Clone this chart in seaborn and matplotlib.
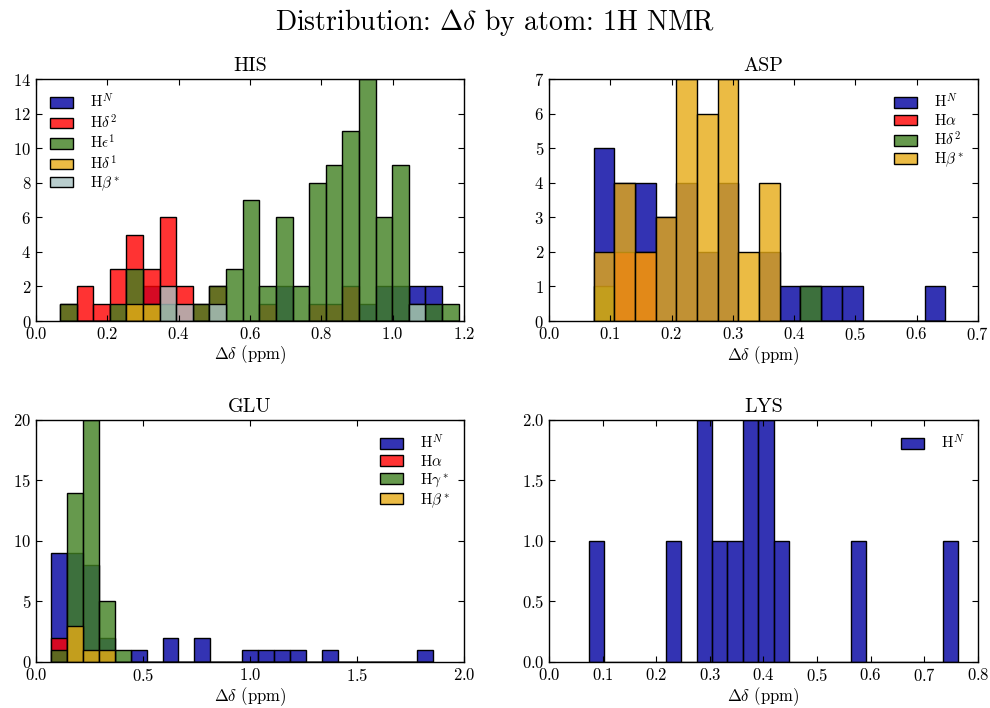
import numpy as np
import matplotlib
matplotlib.use("Agg")
import matplotlib.pyplot as plt
import seaborn as sns

# counts per bin (draw order = legend order)
his_bins = (0.067, 1.185, 24)
his_hn = [0, 0, 0, 0, 0, 2, 0, 0, 0, 0, 0, 0, 0, 2, 0, 0, 0, 0, 1, 2, 2, 2, 2, 0]
his_hd2 = [1, 2, 1, 3, 5, 3, 6, 2, 1, 2, 0, 0, 1, 0, 0, 1, 1, 2, 0, 0, 0, 0, 0, 0]
his_he1 = [1, 0, 0, 1, 3, 1, 1, 0, 1, 2, 3, 7, 2, 6, 2, 8, 9, 11, 14, 6, 9, 1, 1, 1]
his_hd1 = [0, 0, 0, 0, 1, 1, 0, 0, 0, 0, 0, 0, 0, 0, 0, 0, 0, 0, 0, 0, 0, 0, 0, 0]
his_hb = [0, 0, 0, 0, 0, 0, 2, 1, 0, 1, 0, 0, 0, 0, 0, 0, 0, 0, 0, 0, 0, 1, 0, 0]

asp_bins = (0.0729, 0.6467, 17)
asp_hn = [5, 4, 4, 3, 4, 2, 4, 0, 2, 1, 1, 1, 1, 0, 0, 0, 1]
asp_ha = [0, 2, 2, 0, 0, 0, 0, 0, 0, 0, 0, 0, 0, 0, 0, 0, 0]
asp_hd2 = [1, 0, 0, 0, 0, 0, 0, 0, 0, 0, 1, 0, 0, 0, 0, 0, 0]
asp_hb = [2, 4, 2, 3, 7, 6, 7, 2, 4, 0, 0, 0, 0, 0, 0, 0, 0]

glu_bins = (0.070, 1.857, 24)
glu_hn = [9, 9, 8, 2, 0, 1, 0, 2, 0, 2, 0, 0, 1, 1, 1, 1, 0, 1, 0, 0, 0, 0, 0, 1]
glu_ha = [2, 0, 0, 0, 0, 0, 0, 0, 0, 0, 0, 0, 0, 0, 0, 0, 0, 0, 0, 0, 0, 0, 0, 0]
glu_hg = [1, 14, 20, 5, 1, 0, 0, 0, 0, 0, 0, 0, 0, 0, 0, 0, 0, 0, 0, 0, 0, 0, 0, 0]
glu_hb = [0, 3, 1, 1, 0, 0, 0, 0, 0, 0, 0, 0, 0, 0, 0, 0, 0, 0, 0, 0, 0, 0, 0, 0]

lys_bins = (0.0746, 0.7633, 24)
lys_hn = [1, 0, 0, 0, 0, 1, 0, 2, 1, 1, 2, 2, 1, 0, 0, 0, 0, 1, 0, 0, 0, 0, 0, 1]

BLUE, RED, GREEN, ORANGE, LIGHT = "#0000a0", "#ff0000", "#408020", "#e6aa15", "#a8c1c1"

plt.rcParams["font.family"] = "serif"
plt.rcParams["font.serif"] = ["cmr10"]
plt.rcParams["mathtext.fontset"] = "cm"
plt.rcParams["axes.formatter.use_mathtext"] = True


def draw_panel(ax, title, bins, series, xlim, xstep, ylim, ystep, loc):
    lo, hi, n = bins
    w = (hi - lo) / n
    centers = lo + (np.arange(n) + 0.5) * w
    for counts, color, label in series:
        counts = np.asarray(counts)
        keep = counts > 0
        sns.histplot(x=centers[keep], weights=counts[keep], bins=n, binrange=(lo, hi),
                     color=color, alpha=0.8, edgecolor="black", linewidth=1,
                     label=label, ax=ax)
    ax.set_title(title, fontsize=14.5)
    ax.set_xlim(*xlim)
    ax.set_ylim(*ylim)
    ax.set_xticks(np.arange(xlim[0], xlim[1] + xstep / 2, xstep))
    ax.set_yticks(np.arange(ylim[0], ylim[1] + ystep / 2, ystep))
    ax.set_xlabel(r"$\Delta\delta$ (ppm)", fontsize=12, labelpad=1)
    ax.set_ylabel("")
    ax.tick_params(direction="in", top=True, right=True, length=4, labelsize=12)
    for s in ax.spines.values():
        s.set_linewidth(1)
        s.set_color("black")
    ax.legend(loc=loc, frameon=False, fontsize=11, handlelength=1.5,
              handletextpad=1.1, labelspacing=0.15)


fig = plt.figure(figsize=(9.9, 7.08), dpi=100)
ax1 = fig.add_axes([0.0364, 0.5466, 0.4323, 0.3418])
ax2 = fig.add_axes([0.5545, 0.5466, 0.4333, 0.3418])
ax3 = fig.add_axes([0.0364, 0.0650, 0.4323, 0.3418])
ax4 = fig.add_axes([0.5545, 0.0650, 0.4333, 0.3418])

draw_panel(ax1, "HIS", his_bins,
           [(his_hn, BLUE, r"H$^N$"), (his_hd2, RED, r"H$\delta^2$"),
            (his_he1, GREEN, r"H$\epsilon^1$"), (his_hd1, ORANGE, r"H$\delta^1$"),
            (his_hb, LIGHT, r"H$\beta^*$")],
           (0, 1.2), 0.2, (0, 14), 2, "upper left")
draw_panel(ax2, "ASP", asp_bins,
           [(asp_hn, BLUE, r"H$^N$"), (asp_ha, RED, r"H$\alpha$"),
            (asp_hd2, GREEN, r"H$\delta^2$"), (asp_hb, ORANGE, r"H$\beta^*$")],
           (0, 0.7), 0.1, (0, 7), 1, "upper right")
draw_panel(ax3, "GLU", glu_bins,
           [(glu_hn, BLUE, r"H$^N$"), (glu_ha, RED, r"H$\alpha$"),
            (glu_hg, GREEN, r"H$\gamma^*$"), (glu_hb, ORANGE, r"H$\beta^*$")],
           (0, 2.0), 0.5, (0, 20), 5, "upper right")
draw_panel(ax4, "LYS", lys_bins,
           [(lys_hn, BLUE, r"H$^N$")],
           (0, 0.8), 0.1, (0, 2.0), 0.5, "upper right")

fig.suptitle(r"Distribution: $\Delta\delta$ by atom: 1H NMR", fontsize=20, y=0.99)
fig.savefig("out.png", dpi=100)
